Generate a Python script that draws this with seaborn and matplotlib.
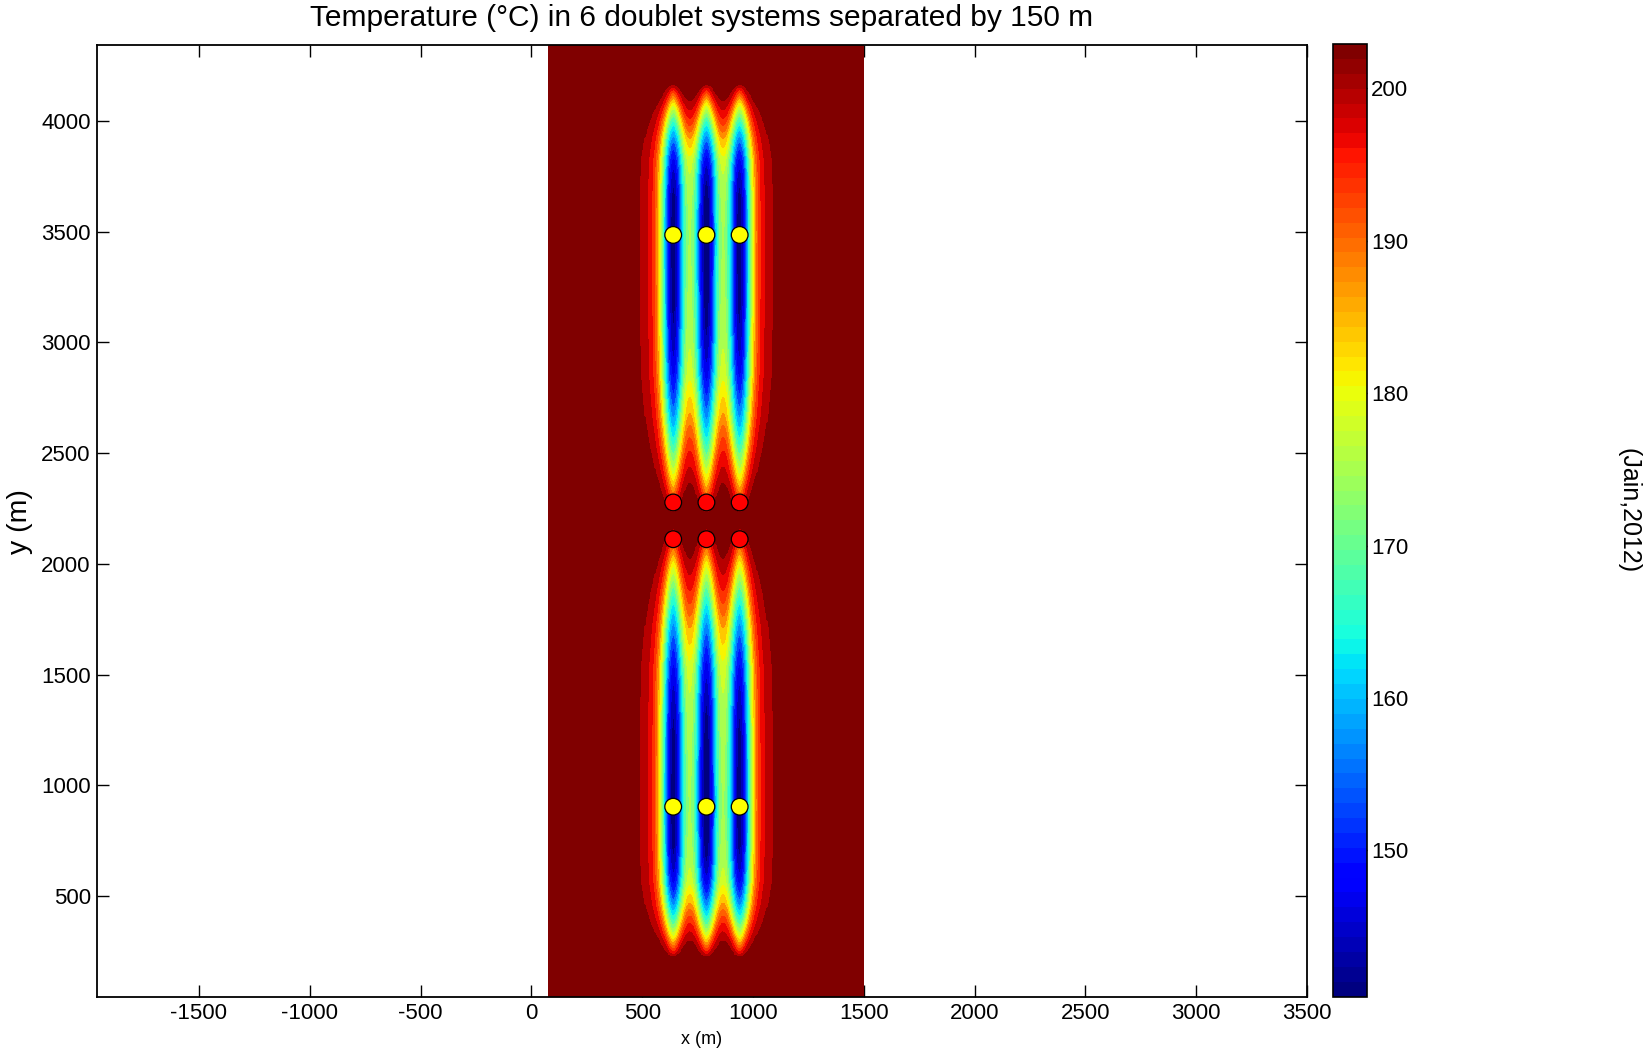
import numpy as np
import pandas as pd
import matplotlib
matplotlib.use("Agg")
import matplotlib.pyplot as plt
from matplotlib.colors import Normalize
from matplotlib.cm import ScalarMappable
import seaborn as sns

# ---------------- data ----------------
injector_x = [640, 790, 940]          # m, three doublets per row
injector_y = [3485, 903]              # m, upper and lower injector rows
producer_y = [2277, 2111]             # m, producers paired with the injector rows
t_ambient = 202.9                     # degC, reservoir temperature
t_min = 140.4                         # degC, coldest value (colour scale minimum)
domain_x = [78, 1500]                 # extent of the simulated field
domain_y = [45, 4345]
x_ticks = [-1500, -1000, -500, 0, 500, 1000, 1500, 2000, 2500, 3000, 3500]
y_ticks = [500, 1000, 1500, 2000, 2500, 3000, 3500, 4000]
cbar_ticks = [150, 160, 170, 180, 190, 200]
x_limits = [-1960, 3500]
title = "Temperature (\u00b0C) in 6 doublet systems separated by 150 m"

# plume shape parameters (estimated from the isotherm pattern)
plume_front_length = 1260   # extent of cold plume toward the producer
plume_back_length = 680     # extent of cold plume away from the producer
core_width = 39.5
broad_width = 70.0
core_amp = 50.5
broad_amp = 10.0
plateau_cut = 1.0
# plume width factor along the normalised plume length
width_u = [0.0, 0.5, 0.65, 0.76, 0.85, 1.0]
width_f = [1.0, 0.98, 0.9, 0.78, 0.64, 0.3]

# ---------------- build temperature field ----------------
sns.set_theme(style="white")
plt.rcParams["font.family"] = ["Liberation Sans", "DejaVu Sans"]
plt.rcParams["axes.unicode_minus"] = False
for k in ["text.color", "axes.labelcolor", "xtick.color", "ytick.color", "axes.edgecolor"]:
    plt.rcParams[k] = "black"

xs = np.arange(domain_x[0], domain_x[1] + 1, 5.0)
ys = np.arange(domain_y[0], domain_y[1] + 1, 5.0)
X, Y = np.meshgrid(xs, ys)

cooling = np.zeros_like(X)
for yi, yp in zip(injector_y, producer_y):
    toward = np.sign(yp - yi)
    t = (Y - yi) * toward
    L = np.where(t >= 0, plume_front_length, plume_back_length)
    u = np.clip(np.abs(t) / L, 0, 1)
    env = 1 - u ** 3
    shrink = np.interp(u, width_u, width_f)
    s = core_width * shrink
    sb = broad_width * shrink
    for xi in injector_x:
        dx = X - xi
        cooling += env * (core_amp * np.exp(-dx ** 2 / (2 * s ** 2))
                          + broad_amp * np.exp(-dx ** 2 / (2 * sb ** 2)))
cooling[cooling < plateau_cut] = 0.0
T = np.clip(t_ambient - cooling, t_min, t_ambient)

cmap = matplotlib.colormaps["jet"].resampled(64)
norm = Normalize(t_min, t_ambient)
lv = np.linspace(t_min, t_ambient, 21)
levels = list(lv[:-1]) + [t_ambient - 1e-3, t_ambient + 1e-3]
colors = [cmap(norm(v)) for v in lv[:-1]] + [cmap(1.0)]

# ---------------- figure ----------------
W, H = 1645, 1053
fig = plt.figure(figsize=(W / 100, H / 100), dpi=100)
ax = fig.add_axes([97 / W, 1 - 996.7 / H, 1210 / W, 952.2 / H])
ax.contourf(X, Y, T, levels=levels, colors=colors, antialiased=False)

wells = pd.DataFrame({
    "x": injector_x * 2 + injector_x * 2,
    "y": [injector_y[0]] * 3 + [injector_y[1]] * 3 + [producer_y[0]] * 3 + [producer_y[1]] * 3,
    "type": ["injector"] * 6 + ["producer"] * 6,
})
sns.scatterplot(data=wells, x="x", y="y", hue="type",
                palette={"injector": "#FFFF00", "producer": "#FF0000"},
                s=145, edgecolor="black", linewidth=0.9, legend=False, ax=ax, zorder=5)

ax.set_xlim(*x_limits)
ax.set_ylim(*domain_y)
ax.set_xticks(x_ticks)
ax.set_yticks(y_ticks)
ax.tick_params(direction="in", length=8.6, width=1.0, top=True, right=True,
               bottom=True, left=True, labelsize=16, pad=4.5)
for sp in ax.spines.values():
    sp.set_visible(True)
    sp.set_linewidth(1.3)
    sp.set_color("black")

ax.set_xlabel("x (m)", fontsize=13)
ax.xaxis.set_label_coords(0.5, -(1040 - 996.7) / 952.2)
ax.xaxis.label.set_va("center")
ax.set_ylabel("y (m)", fontsize=20.5)
ax.yaxis.set_label_coords((20 - 97) / 1210, (996.7 - 522) / 952.2)
ax.yaxis.label.set_va("center")
ax.set_title(title, fontsize=21.5, y=(996.7 - 18) / 952.2, va="center", pad=0)

cax = fig.add_axes([1333 / W, 1 - 996.7 / H, 34 / W, 952.7 / H])
sm = ScalarMappable(norm=norm, cmap=cmap)
cb = fig.colorbar(sm, cax=cax, ticks=cbar_ticks)
cb.outline.set_edgecolor("black")
cb.outline.set_linewidth(1.2)
cax.tick_params(direction="in", length=6.7, width=1.0, left=True, right=True,
                labelsize=16, pad=3)

fig.text(1628 / W, 1 - 511 / H, "(Jain,2012)", rotation=270, ha="center",
         va="center", fontsize=18)

fig.savefig("out.png", dpi=100)
